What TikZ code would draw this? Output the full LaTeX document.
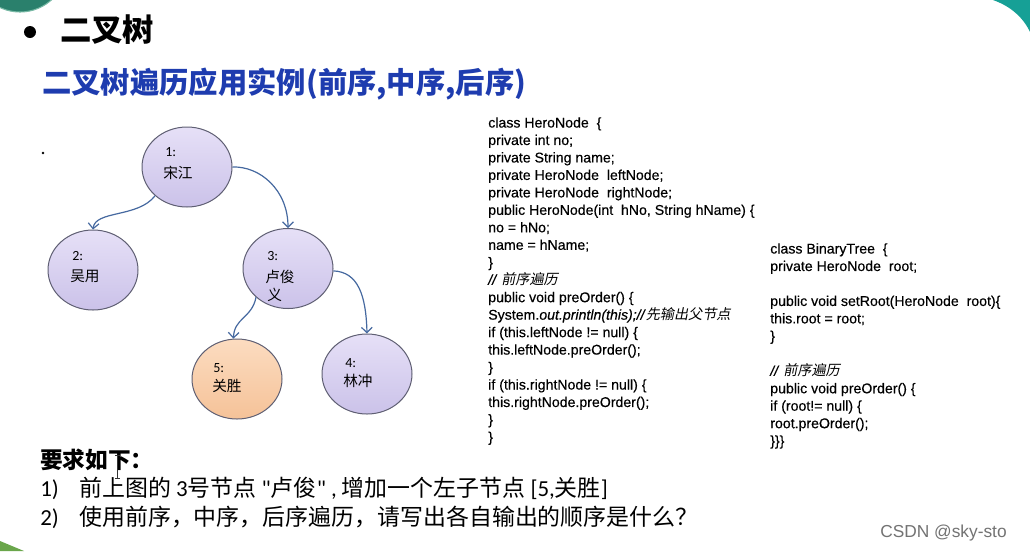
\documentclass[tikz,border=0pt]{standalone}
\usepackage{fontspec}
\setmainfont{Liberation Sans}
\newfontfamily\codefont[FakeBold=0.35]{Liberation Sans}
\newfontfamily\cjk{Noto Sans CJK SC}
\newfontfamily\cjkit[FakeSlant=0.2]{Noto Sans CJK SC}
\newfontfamily\calfont{Carlito}
\usetikzlibrary{shapes.geometric,arrows.meta}
\definecolor{lavtop}{RGB}{230,224,247}
\definecolor{lavbot}{RGB}{203,194,233}
\definecolor{ortop}{RGB}{252,220,192}
\definecolor{orbot}{RGB}{245,194,152}
\definecolor{nodeborder}{RGB}{95,95,115}
\definecolor{edgeblue}{RGB}{70,105,160}
\definecolor{titleblue}{RGB}{30,60,175}
\definecolor{slideteal}{RGB}{22,160,150}
\definecolor{cornergreen}{RGB}{42,128,108}
\definecolor{cornerrim}{RGB}{120,185,165}
\definecolor{wmgray}{RGB}{115,115,115}
\tikzset{
  herobox/.style={ellipse, draw=nodeborder, line width=0.75pt, inner sep=0pt,
    minimum width=67.5pt, minimum height=60pt, top color=lavtop, bottom color=lavbot},
  newbox/.style={herobox, top color=ortop, bottom color=orbot},
  link/.style={draw=edgeblue, line width=0.9pt, -{Straight Barb[length=4pt,width=8pt]}},
  numtxt/.style={anchor=base west, inner sep=0pt, font=\calfont\fontsize{10.5}{12}\selectfont},
  nametxt/.style={anchor=base west, inner sep=0pt, font=\cjk\fontsize{11}{13}\selectfont},
  codetxt/.style={anchor=north west, inner sep=0pt, align=left, font=\codefont\fontsize{10.6}{13.1}\selectfont},
  reqtxt/.style={anchor=base west, inner sep=0pt, font=\cjk\fontsize{17.2}{20}\selectfont},
  reqnum/.style={anchor=base west, inner sep=0pt, font=\calfont\fontsize{17.2}{20}\selectfont}
}
\begin{document}
\begin{tikzpicture}[x=0.75pt,y=-0.75pt]
\path[use as bounding box] (0,0) rectangle (1030,551);
\clip (0,0) rectangle (1030,551);
\fill[white] (0,0) rectangle (1030,551);
% slide decorations
\fill[cornergreen] (20,-35) circle (35.25pt);
\draw[cornerrim, line width=0.8pt] (20,-35) circle (35.25pt);
\fill[slideteal] (993,0) .. controls (1010,6) and (1023,17) .. (1030,32) -- (1030,0) -- cycle;
\fill[cornergreen!70!yellow] (0,541) -- (24,551) -- (0,551) -- cycle;
% titles
\fill[black] (30,32) circle (4.5pt);
\node[anchor=base west, inner sep=0pt, font=\cjk\bfseries\fontsize{23.5}{26}\selectfont] (title) at (60,41) {二叉树};
\node[anchor=base west, inner sep=0pt, text=titleblue, font=\cjk\bfseries\fontsize{22}{26}\selectfont] (subtitle) at (42,93) {二叉树遍历应用实例(前序,中序,后序)};
\fill[black] (43,153) circle (1pt);
% tree
\node[herobox] (e1) at (187,167) {};
\node[herobox] (e2) at (93,270) {};
\node[herobox] (e3) at (288,268.5) {};
\node[newbox]  (e5) at (237,379) {};
\node[herobox] (e4) at (367,374) {};
\node[numtxt] (n1) at (165,156) {1:};
\node[nametxt] (m1) at (163,178) {宋江};
\node[numtxt] (n2) at (72,260) {2:};
\node[nametxt] (m2) at (70,281) {吴用};
\node[numtxt] (n3) at (267,260) {3:};
\node[nametxt] (m3) at (265,282) {卢俊};
\node[nametxt] (m3b) at (267,300) {义};
\node[numtxt] (n5) at (213,372) {5:};
\node[nametxt] (m5) at (212,391) {关胜};
\node[numtxt] (n4) at (345,367) {4:};
\node[nametxt] (m4) at (343,386) {林冲};
\draw[link] (e1.222) .. controls (138,218) and (95,210) .. (e2.north);
\draw[link] (e1.east) .. controls (260,166) and (288,190) .. (e3.north);
\draw[link] (e3.222) .. controls (252,318) and (234,318) .. (e5.95);
\draw[link] (e3.-3) .. controls (358,272) and (366,295) .. (e4.north);
% code
\node[codetxt] (code1) at (488,117) {class HeroNode\ \ \{\\
private int no;\\
private String name;\\
private HeroNode\ \ leftNode;\\
private HeroNode\ \ rightNode;\\
public HeroNode(int\ \ hNo, String hName) \{\\
no = hNo;\\
name = hName;\\
\}\\
\textit{//} {\cjkit 前序遍历}\\
public void preOrder() \{\\
System.\textit{out.println(this);//}{\cjkit 先输出父节点}\\
if (this.leftNode != null) \{\\
this.leftNode.preOrder();\\
\}\\
if (this.rightNode != null) \{\\
this.rightNode.preOrder();\\
\}\\
\}};
\node[codetxt] (code2) at (770,243) {class BinaryTree\ \ \{\\
private HeroNode\ \ root;\\
\mbox{}\\
public void setRoot(HeroNode\ \ root)\{\\
this.root = root;\\
\}\\
\mbox{}\\
\textit{//} {\cjkit 前序遍历}\\
public void preOrder() \{\\
if (root!= null) \{\\
root.preOrder();\\
\}\}\}};
% requirements
\node[reqtxt, font=\cjk\bfseries\fontsize{17}{20}\selectfont] (req) at (40,468) {要求如下：};
\node[reqnum] (r1n) at (40,496) {1)};
\node[reqtxt] (r1) at (79,496) {前上图的 {\calfont 3}号节点 {\calfont "}卢俊{\calfont "} {\calfont ,} 增加一个左子节点 {\calfont [5,}关胜{\calfont ]}};
\node[reqnum] (r2n) at (40,525) {2)};
\node[reqtxt] (r2) at (79,525) {使用前序，中序，后序遍历，请写出各自输出的顺序是什么？};
% text cursor
\draw[black!80, line width=0.5pt] (117.5,455) -- (117.5,478) (115,455) -- (120,455) (115,478) -- (120,478);
% watermark
\node[anchor=base west, inner sep=0pt, text=wmgray, font=\fontsize{13}{15}\selectfont] (wm) at (880,537) {CSDN @sky-sto};
\end{tikzpicture}
\end{document}
